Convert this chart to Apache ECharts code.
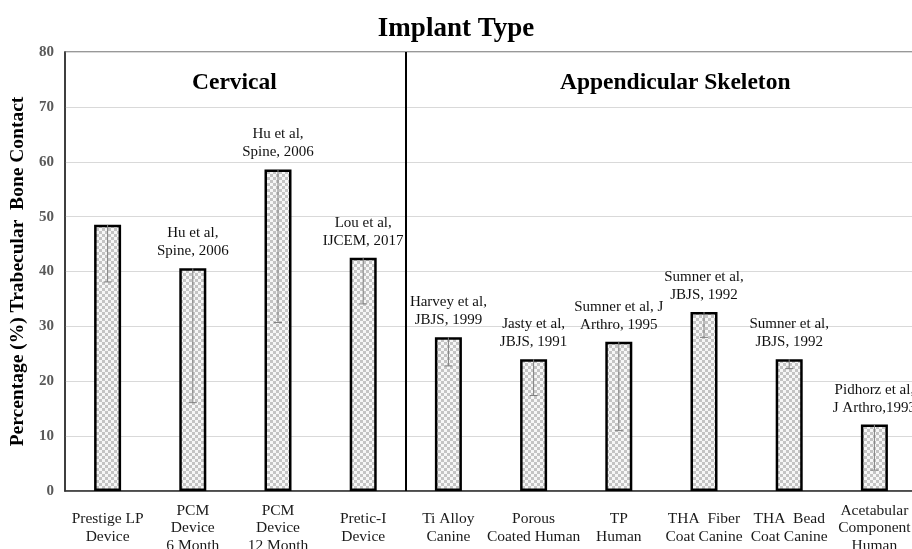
<!DOCTYPE html>
<html>
<head>
<meta charset="utf-8">
<script src="https://cdn.jsdelivr.net/npm/echarts@6/dist/echarts.min.js"></script>
<style>
  html, body { margin: 0; padding: 0; background: #ffffff; }
  #main { width: 912px; height: 549px; }
</style>
</head>
<body>
<div id="main"></div>
<script>
// categories along x
const categories = [
  'Prestige LP\nDevice', 'PCM\nDevice\n6 Month', 'PCM\nDevice\n12 Month', 'Pretic-I\nDevice',
  'Ti Alloy\nCanine', 'Porous\nCoated Human', 'TP\nHuman', 'THA  Fiber\nCoat Canine',
  'THA  Bead\nCoat Canine', 'Acetabular\nComponent\nHuman'
];
// mean bone contact (%)
const contact = [48.5, 40.6, 58.6, 42.5, 28.0, 24.0, 27.2, 32.6, 24.0, 12.1];
// minus error (drawn down from the bar top)
const errMinus = [10.4, 24.5, 27.9, 8.4, 5.2, 6.6, 16.2, 4.6, 1.7, 8.3];
// reference above each bar
const citations = [
  '', 'Hu et al,\nSpine, 2006', 'Hu et al,\nSpine, 2006', 'Lou et al,\nIJCEM, 2017',
  'Harvey et al,\nJBJS, 1999', 'Jasty et al,\nJBJS, 1991', 'Sumner et al, J\nArthro, 1995',
  'Sumner et al,\nJBJS, 1992', 'Sumner et al,\nJBJS, 1992', 'Pidhorz et al,\nJ Arthro,1993'
];
const yTicks = { min: 0, max: 80, step: 10 };
// cervical | appendicular split sits after the 4th category
const groupSplit = 4;

const serif = 'Liberation Serif, Times New Roman, serif';

// checker pattern for bar fill
const pat = document.createElement('canvas');
pat.width = 6; pat.height = 6;
const pctx = pat.getContext('2d');
pctx.fillStyle = '#f7f7f7'; pctx.fillRect(0, 0, 6, 6);
pctx.fillStyle = '#c4c4c4';
pctx.fillRect(0, 0, 3, 3); pctx.fillRect(3, 3, 3, 3);

const errData = contact.map((v, i) => [i, v, v - errMinus[i]]);

const chart = echarts.init(document.getElementById('main'));
chart.setOption({
  animation: false,
  backgroundColor: '#ffffff',
  title: [
    { text: 'Implant Type', left: 'center', top: 11,
      textStyle: { fontFamily: serif, fontSize: 27, fontWeight: 'bold', color: '#000' } },
    { text: 'Cervical', left: 187, top: 66,
      textStyle: { fontFamily: serif, fontSize: 23.5, fontWeight: 'bold', color: '#000' } },
    { text: 'Appendicular Skeleton', left: 555, top: 66,
      textStyle: { fontFamily: serif, fontSize: 23.5, fontWeight: 'bold', color: '#000' } }
  ],
  grid: {
    left: 65, top: 52, right: -5, bottom: 58,
    outerBoundsMode: 'none',
    containLabel: false,
    show: true, borderColor: '#777', borderWidth: 1.5
  },
  xAxis: [
    {
      type: 'category',
      data: categories,
      axisTick: { show: false },
      axisLine: { lineStyle: { color: '#333', width: 1.5 } },
      axisLabel: {
        interval: 0, margin: 37, verticalAlign: 'middle',
        fontFamily: serif, fontSize: 15.5, lineHeight: 17.5, color: '#1a1a1a'
      }
    },
    {
      type: 'value', min: 0, max: categories.length, show: false
    }
  ],
  yAxis: {
    type: 'value',
    min: yTicks.min, max: yTicks.max, interval: yTicks.step,
    name: 'Percentage (%) Trabecular  Bone Contact',
    nameLocation: 'middle', nameGap: 37,
    nameTextStyle: { fontFamily: serif, fontSize: 19.5, fontWeight: 'bold', color: '#000' },
    axisLine: { show: true, lineStyle: { color: '#222', width: 1.5 } },
    axisTick: { show: false },
    splitLine: { lineStyle: { color: '#d9d9d9', width: 1 } },
    axisLabel: { fontFamily: serif, fontSize: 15, fontWeight: 'bold', color: '#595959', margin: 11 }
  },
  series: [
    {
      type: 'bar',
      data: contact,
      barWidth: 27,
      itemStyle: {
        color: { image: pat, repeat: 'repeat' },
        borderColor: '#000', borderWidth: 2.5
      },
      label: {
        show: true, position: 'top', distance: 8,
        formatter: (p) => citations[p.dataIndex],
        fontFamily: serif, fontSize: 15, lineHeight: 18, color: '#111', align: 'center'
      },
      z: 2
    },
    {
      type: 'custom',
      data: errData,
      z: 5,
      renderItem: function (params, api) {
        const top = api.coord([api.value(0), api.value(1)]);
        const low = api.coord([api.value(0), api.value(2)]);
        const style = { stroke: '#808080', lineWidth: 1 };
        return {
          type: 'group',
          children: [
            { type: 'line', shape: { x1: top[0], y1: top[1], x2: low[0], y2: low[1] }, style: style },
            { type: 'line', shape: { x1: low[0] - 4, y1: low[1], x2: low[0] + 4, y2: low[1] }, style: style }
          ]
        };
      }
    },
    {
      // group divider
      type: 'line',
      xAxisIndex: 1,
      data: [],
      markLine: {
        silent: true,
        symbol: 'none',
        label: { show: false },
        lineStyle: { color: '#000', width: 2, type: 'solid' },
        data: [{ xAxis: groupSplit }]
      },
      z: 6
    }
  ]
});
</script>
</body>
</html>
